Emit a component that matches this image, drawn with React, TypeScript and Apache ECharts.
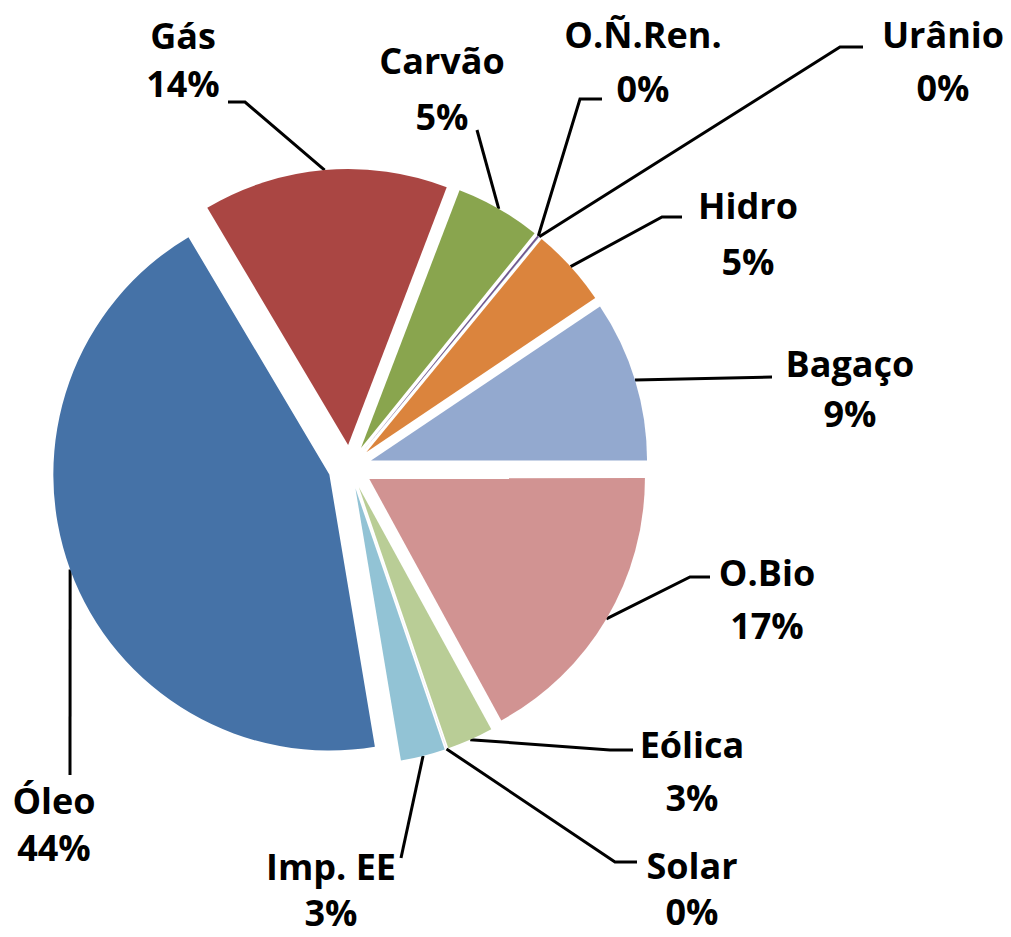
import React, { useEffect, useRef } from 'react';
import * as echarts from 'echarts';

// ---- Data ----
const categories = ['Óleo', 'Gás', 'Carvão', 'O.Ñ.Ren.', 'Urânio', 'Hidro', 'Bagaço', 'O.Bio', 'Eólica', 'Solar', 'Imp. EE'];
const values = [44.0, 14.3, 5.0, 0.12, 0.01, 4.6, 9.4, 17.0, 2.7, 0.01, 2.6];
const colors = ['#4572A7', '#AA4643', '#89A54E', '#71588F', '#4198AF', '#DB843D', '#93A9CF', '#D19392', '#B9CD96', '#A99BBD', '#92C3D5'];

// ---- Layout ----
const CENTER = [350, 467];
const RADIUS = 276;
const EXPLODE = 22;
const START_COMPASS = 170.5; // degrees clockwise from 12 o'clock

// label centre x, y, line height, leader line points after the slice edge
const labelX = [54, 183, 442, 643, 943, 748, 850, 767, 692, 692, 331];
const labelY = [824, 59, 88, 61, 61, 233, 388, 599, 771, 888, 889];
const labelLH = [47, 48, 56, 54, 53, 56, 50, 53, 53, 46, 46];
const leaderTail: number[][][] = [
  [[70, 775]],
  [[245, 102], [228, 102]],
  [[477, 130]],
  [[580, 99], [602, 99]],
  [[840, 47], [863, 47]],
  [[662, 217], [682, 217]],
  [[772, 377]],
  [[690, 577], [710, 577]],
  [[610, 750], [633, 750]],
  [[615, 862], [637, 862]],
  [[401, 858]],
];

export default function App() {
  const ref = useRef<HTMLDivElement>(null);
  useEffect(() => {
    if (!ref.current) return;
    const chart = echarts.init(ref.current, undefined, { renderer: 'svg' });
    const total = values.reduce((a, b) => a + b, 0);
    const mids: number[] = [];
    let acc = START_COMPASS;
    values.forEach((v) => {
      const span = (v / total) * 360;
      mids.push(acc + span / 2);
      acc += span;
    });
    const pct = values.map((v) => Math.round((v / total) * 100));

    const common = {
      type: 'pie',
      center: CENTER,
      radius: RADIUS,
      startAngle: 90 - START_COMPASS,
      clockwise: true,
      avoidLabelOverlap: false,
      emphasis: { disabled: true },
    };

    chart.setOption({
      animation: false,
      backgroundColor: '#ffffff',
      series: [
        {
          ...common,
          name: 'slices',
          selectedMode: 'multiple',
          selectedOffset: EXPLODE,
          itemStyle: { borderWidth: 0 },
          label: { show: false },
          labelLine: { show: false },
          data: categories.map((name, i) => ({
            name,
            value: values[i],
            selected: true,
            itemStyle: { color: colors[i] },
          })),
        },
        {
          ...common,
          name: 'labels',
          silent: true,
          selectedMode: false,
          itemStyle: { color: 'rgba(0,0,0,0)', borderWidth: 0 },
          label: {
            show: true,
            position: 'outside',
            formatter: (p: any) => `${p.name}\n${pct[p.dataIndex]}%`,
            fontFamily: 'Open Sans',
            fontWeight: 'bold',
            fontSize: 36,
            color: '#000000',
            align: 'center',
          },
          labelLine: { show: true, lineStyle: { color: '#000000', width: 3 } },
          labelLayout: (p: any) => {
            const i = p.dataIndex;
            const a = (mids[i] * Math.PI) / 180;
            const sx = CENTER[0] + (RADIUS + EXPLODE) * Math.sin(a);
            const sy = CENTER[1] - (RADIUS + EXPLODE) * Math.cos(a);
            return {
              x: labelX[i],
              y: labelY[i],
              align: 'center',
              verticalAlign: 'middle',
              labelLinePoints: [[sx, sy], ...leaderTail[i]],
            };
          },
          data: categories.map((name, i) => ({
            name,
            value: values[i],
            label: { lineHeight: labelLH[i] },
          })),
        },
      ],
    });
    return () => chart.dispose();
  }, []);
  return (
    <div
      ref={ref}
      style={{ position: 'absolute', left: 0, top: 0, width: 1011, height: 937 }}
    />
  );
}
